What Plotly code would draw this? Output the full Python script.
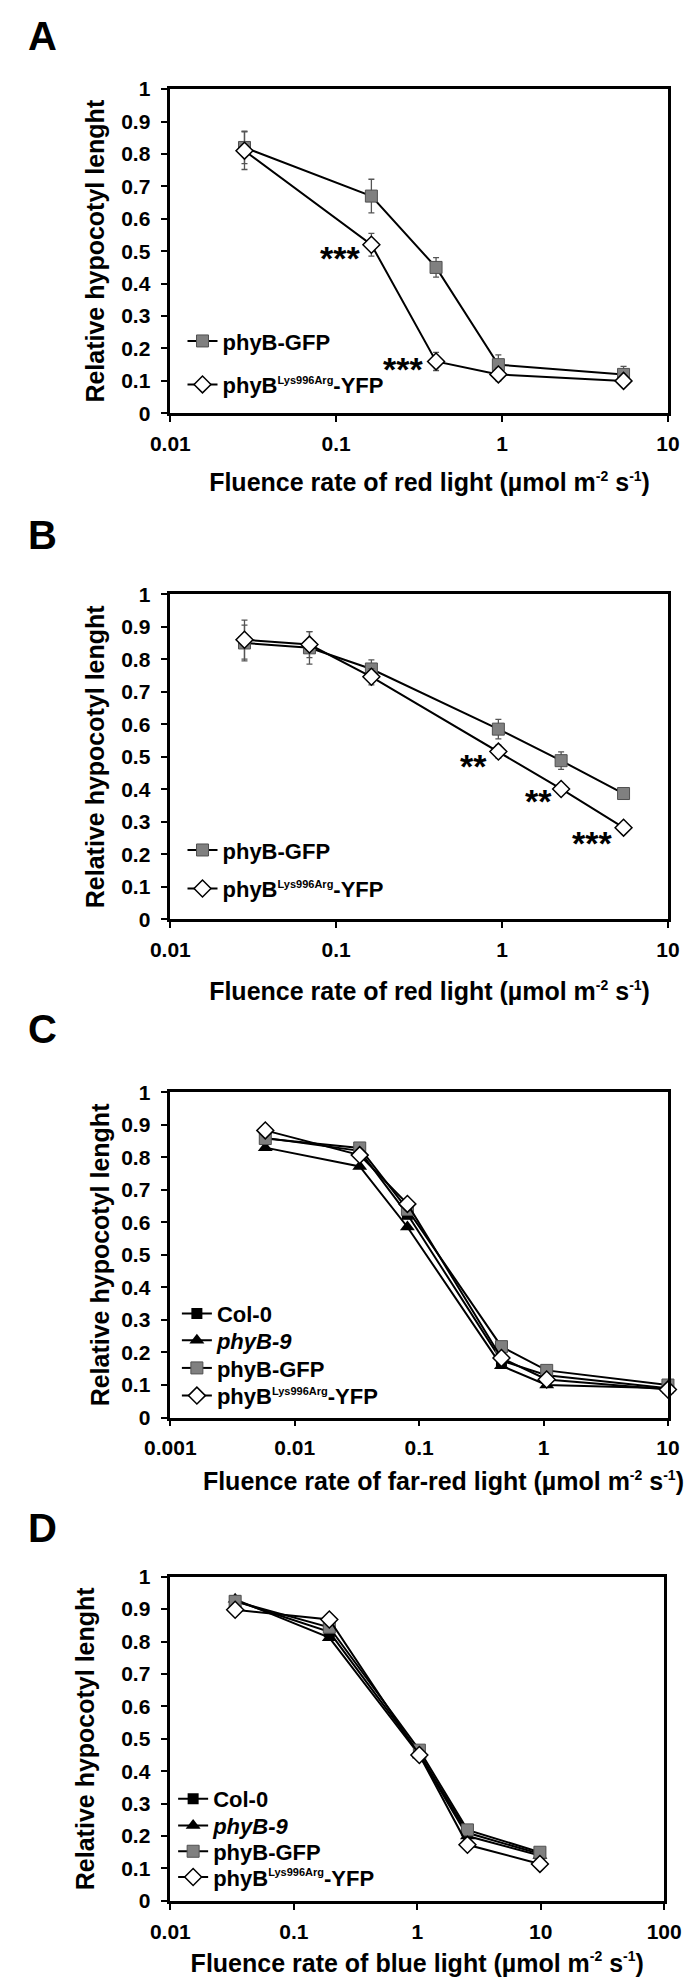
import numpy as np
import plotly.graph_objects as go

# ---------------- data ----------------
# Panel A (red light)
a_x = [0.028, 0.163, 0.40, 0.95, 5.4]
a_gfp = [0.82, 0.67, 0.45, 0.15, 0.12]
a_gfp_err = [0.05, 0.052, 0.03, 0.03, 0.025]
a_mut = [0.81, 0.52, 0.16, 0.12, 0.10]
a_mut_err = [0.058, 0.035, 0.028, 0.02, 0.01]
a_star_x = [0.105, 0.252]
a_star_y = [0.503, 0.162]
a_star_text = ["***", "***"]

# Panel B (red light)
b_x = [0.028, 0.069, 0.163, 0.95, 2.27, 5.4]
b_gfp = [0.85, 0.835, 0.77, 0.585, 0.488, 0.387]
b_gfp_err = [0.055, 0.05, 0.028, 0.03, 0.027, 0.015]
b_mut = [0.86, 0.845, 0.746, 0.516, 0.401, 0.282]
b_mut_err = [0.06, 0.04, 0.025, 0.02, 0.01, 0.01]
b_star_x = [0.67, 1.65, 3.5]
b_star_y = [0.495, 0.389, 0.259]
b_star_text = ["**", "**", "***"]

# Panel C (far-red light)
c_x = [0.0058, 0.0333, 0.0805, 0.459, 1.06, 10]
c_col = [0.86, 0.82, 0.625, 0.175, 0.13, 0.09]
c_phyb9 = [0.83, 0.772, 0.586, 0.159, 0.10, 0.09]
c_gfp = [0.858, 0.829, 0.64, 0.218, 0.145, 0.10]
c_mut = [0.883, 0.807, 0.657, 0.183, 0.117, 0.086]

# Panel D (blue light)
d_x = [0.0335, 0.194, 1.04, 2.55, 9.85]
d_col = [0.925, 0.83, 0.455, 0.21, 0.145]
d_phyb9 = [0.93, 0.812, 0.45, 0.20, 0.14]
d_gfp = [0.924, 0.844, 0.465, 0.219, 0.15]
d_mut = [0.898, 0.868, 0.45, 0.173, 0.114]

# ticks
y_ticks = [0, 0.1, 0.2, 0.3, 0.4, 0.5, 0.6, 0.7, 0.8, 0.9, 1]
y_labels = ["0", "0.1", "0.2", "0.3", "0.4", "0.5", "0.6", "0.7", "0.8", "0.9", "1"]
ab_xticks = [0.01, 0.1, 1, 10]
ab_xlabels = ["0.01", "0.1", "1", "10"]
c_xticks = [0.001, 0.01, 0.1, 1, 10]
c_xlabels = ["0.001", "0.01", "0.1", "1", "10"]
d_xticks = [0.01, 0.1, 1, 10, 100]
d_xlabels = ["0.01", "0.1", "1", "10", "100"]

SUP = '<sup><span style="font-size:11px">{}</span></sup>'
names = ["Col-0", "<i>phyB-9</i>", "phyB-GFP", "phyB" + SUP.format("Lys996Arg") + "-YFP"]
y_title = "Relative hypocotyl lenght"
unit = " (µmol m" + '<sup><span style="font-size:14px">-2</span></sup>' + " s" + \
       '<sup><span style="font-size:14px">-1</span></sup>' + ")"
NB = "&nbsp;"
x_titles = [NB * 3 + "Fluence rate of red light" + unit,
            NB * 3 + "Fluence rate of red light" + unit,
            NB * 7 + "Fluence rate of far-red light" + unit,
            "Fluence rate of blue light" + unit]

# ---------------- styling ----------------
W, H = 700, 1987
FONT = "Liberation Sans, Arial, Helvetica, sans-serif"

def px_dom_x(l, r):
    return [l / W, r / W]

def px_dom_y(top, bottom):
    return [1 - bottom / H, 1 - top / H]

gfp_marker = dict(symbol="square", size=12, color="#808080", line=dict(color="#505050", width=1))
mut_marker = dict(symbol="diamond", size=13, color="white", line=dict(color="black", width=1.5))
col_marker = dict(symbol="square", size=11, color="black")
b9_marker = dict(symbol="triangle-up", size=13, color="black")
line_style = dict(color="black", width=2)

def err(arr):
    return dict(type="data", array=arr, visible=True, color="#555555", thickness=1.3, width=3)

fig = go.Figure()

# Panel A
fig.add_trace(go.Scatter(x=a_x, y=a_gfp, error_y=err(a_gfp_err), mode="lines+markers",
                         name=names[2], marker=gfp_marker, line=line_style, xaxis="x", yaxis="y",
                         legend="legend", cliponaxis=False))
fig.add_trace(go.Scatter(x=a_x, y=a_mut, error_y=err(a_mut_err), mode="lines+markers",
                         name=names[3], marker=mut_marker, line=line_style, xaxis="x", yaxis="y",
                         legend="legend2", cliponaxis=False))
# Panel B
fig.add_trace(go.Scatter(x=b_x, y=b_gfp, error_y=err(b_gfp_err), mode="lines+markers",
                         name=names[2], marker=gfp_marker, line=line_style, xaxis="x2", yaxis="y2",
                         legend="legend3", cliponaxis=False))
fig.add_trace(go.Scatter(x=b_x, y=b_mut, error_y=err(b_mut_err), mode="lines+markers",
                         name=names[3], marker=mut_marker, line=line_style, xaxis="x2", yaxis="y2",
                         legend="legend4", cliponaxis=False))
# Panel C
for i, (ys, nm, mk) in enumerate([(c_col, names[0], col_marker), (c_phyb9, names[1], b9_marker),
                                  (c_gfp, names[2], gfp_marker), (c_mut, names[3], mut_marker)]):
    fig.add_trace(go.Scatter(x=c_x, y=ys, mode="lines+markers", name=nm, marker=mk,
                             line=line_style, xaxis="x3", yaxis="y3", legend=f"legend{5 + i}",
                             cliponaxis=False))
# Panel D
for i, (ys, nm, mk) in enumerate([(d_col, names[0], col_marker), (d_phyb9, names[1], b9_marker),
                                  (d_gfp, names[2], gfp_marker), (d_mut, names[3], mut_marker)]):
    fig.add_trace(go.Scatter(x=d_x, y=ys, mode="lines+markers", name=nm, marker=mk,
                             line=line_style, xaxis="x4", yaxis="y4", legend=f"legend{9 + i}",
                             cliponaxis=False))

tickfont = dict(family=FONT, size=21, color="black", weight="bold")
titlefont = dict(family=FONT, size=25, color="black", weight="bold")

def xaxis(dom, anchor, rng, tv, tt, title, standoff):
    return dict(domain=dom, anchor=anchor, type="log", range=rng, tickvals=tv, ticktext=tt,
                showline=True, mirror=True, linecolor="black", linewidth=2.5,
                ticks="outside", ticklen=6, tickwidth=2, tickcolor="black",
                ticklabelstandoff=4,
                showgrid=False, zeroline=False, tickfont=tickfont,
                title=dict(text=title, font=titlefont, standoff=standoff))

def yaxis(dom, anchor, standoff):
    return dict(domain=dom, anchor=anchor, range=[0, 1], tickvals=y_ticks, ticktext=y_labels,
                showline=True, mirror=True, linecolor="black", linewidth=2.5,
                ticks="outside", ticklen=7, tickwidth=2, tickcolor="black",
                ticklabelstandoff=6,
                showgrid=False, zeroline=False, tickfont=tickfont,
                title=dict(text=y_title, font=titlefont, standoff=standoff))

xd = px_dom_x(154, 685)
xdD = px_dom_x(154, 681)

legfont = dict(family=FONT, size=22, color="black", weight="bold")

def legend(xpx, ypx):
    return dict(x=xpx / W, y=1 - ypx / H, xanchor="left", yanchor="middle",
                bgcolor="rgba(0,0,0,0)", font=legfont, itemwidth=30)

legend_pos = {
    "legend": (167, 333), "legend2": (167, 377),
    "legend3": (167, 848), "legend4": (167, 887),
    "legend5": (161, 1317), "legend6": (161, 1344), "legend7": (161, 1372), "legend8": (161, 1400),
    "legend9": (157, 1808), "legend10": (157, 1835), "legend11": (157, 1861), "legend12": (157, 1887),
}

annotations = []
for txt, ypx in [("A", 24), ("B", 529), ("C", 1029), ("D", 1534)]:
    annotations.append(dict(text=txt, xref="paper", yref="paper", x=0, y=1 - ypx / H,
                            xanchor="left", yanchor="middle", showarrow=False,
                            font=dict(family=FONT, size=40, color="black", weight="bold")))
starfont = dict(family=FONT, size=34, color="black", weight="bold")
for sx, sy, st in zip(a_star_x, a_star_y, a_star_text):
    annotations.append(dict(text=st, xref="x", yref="y", x=np.log10(sx), y=sy, showarrow=False,
                            xanchor="center", yanchor="middle", yshift=-8, font=starfont))
for sx, sy, st in zip(b_star_x, b_star_y, b_star_text):
    annotations.append(dict(text=st, xref="x2", yref="y2", x=np.log10(sx), y=sy, showarrow=False,
                            xanchor="center", yanchor="middle", yshift=-8, font=starfont))

layout = dict(
    width=W, height=H, margin=dict(l=0, r=0, t=0, b=0),
    paper_bgcolor="white", plot_bgcolor="white",
    font=dict(family=FONT, color="black"),
    showlegend=True,
    xaxis=xaxis(xd, "y", [-2, 1], ab_xticks, ab_xlabels, x_titles[0], 20),
    yaxis=yaxis(px_dom_y(78, 406), "x", 10),
    xaxis2=xaxis(xd, "y2", [-2, 1], ab_xticks, ab_xlabels, x_titles[1], 23),
    yaxis2=yaxis(px_dom_y(589, 918), "x2", 10),
    xaxis3=xaxis(xd, "y3", [-3, 1], c_xticks, c_xlabels, x_titles[2], 15),
    yaxis3=yaxis(px_dom_y(1093, 1422), "x3", 5),
    xaxis4=xaxis(xdD, "y4", [-2, 2], d_xticks, d_xlabels, x_titles[3], 13),
    yaxis4=yaxis(px_dom_y(1583, 1911), "x4", 20),
    annotations=annotations,
)
for k, (lx, ly) in legend_pos.items():
    layout[k] = legend(lx, ly)

fig.update_layout(**layout)
fig.write_html("out.html", config={"displayModeBar": False},
               post_script="document.body.style.margin='0px';document.body.style.overflow='hidden';")
